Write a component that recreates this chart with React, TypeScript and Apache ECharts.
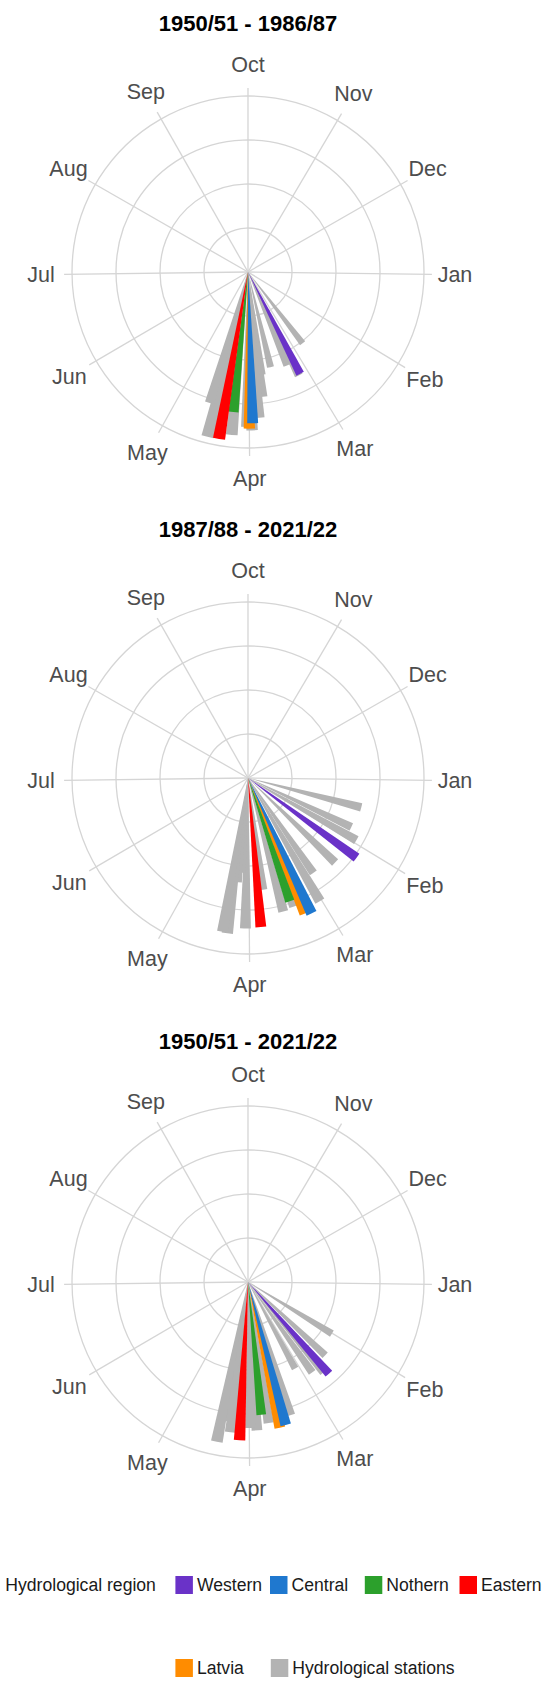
import React, { useEffect, useRef } from "react";
import * as echarts from "echarts";

// ---------- data ----------
const periodTitles = ["1950/51 - 1986/87", "1987/88 - 2021/22", "1950/51 - 2021/22"];
const monthLabels = ["Oct", "Nov", "Dec", "Jan", "Feb", "Mar", "Apr", "May", "Jun", "Jul", "Aug", "Sep"];
// day of the hydrological year (1 Oct = 0) on which each month starts
const monthStartDays = [0, 31, 61, 92, 123, 151, 182, 212, 243, 273, 304, 335];
const yearDays = 365;

// mean date (day of hydrological year) and resultant length, one value per period
const westernDay = [155, 128, 140.5];
const westernLength = [0.65, 0.765, 0.695];
const centralDay = [180.7, 157, 167.5];
const centralLength = [0.86, 0.85, 0.84];
const northernDay = [188.5, 163.5, 176.7];
const northernLength = [0.8, 0.74, 0.758];
const easternDay = [192.5, 177.5, 185.6];
const easternLength = [0.962, 0.85, 0.9];
const latviaDay = [182, 159.5, 170];
const latviaLength = [0.89, 0.835, 0.848];

// hydrological stations
const stationDays1 = [144.5, 156, 159.5, 169, 174.7, 175.6, 178, 181, 183, 188.3, 194.5, 196.5, 199];
const stationLengths1 = [0.51, 0.655, 0.575, 0.555, 0.59, 0.715, 0.83, 0.9, 0.88, 0.93, 0.95, 0.965, 0.775];
const stationDays2 = [106, 117, 121.5, 136, 147.5, 151.8, 162.5, 167.5, 174.6, 183.5, 186, 188, 190.2, 192];
const stationLengths2 = [0.665, 0.65, 0.71, 0.69, 0.655, 0.81, 0.775, 0.785, 0.64, 0.855, 0.54, 0.595, 0.89, 0.885];
const stationDays3 = [123.3, 135.4, 142, 146.6, 153.5, 164.7, 174, 179, 181.5, 189.3, 191, 193.7];
const stationLengths3 = [0.56, 0.605, 0.67, 0.63, 0.56, 0.795, 0.81, 0.845, 0.83, 0.86, 0.8, 0.925];

const stationDays = [stationDays1, stationDays2, stationDays3];
const stationLengths = [stationLengths1, stationLengths2, stationLengths3];

// ---------- styling / layout ----------
const FONT = "'Liberation Sans', Arial, Helvetica, sans-serif";
const GRID_COLOR = "#d5d5d5";
const LABEL_COLOR = "#4d4d4d";
const CENTERS: [number, number][] = [
  [248, 272],
  [248, 778],
  [248, 1282],
];
const TITLE_Y = [23, 529, 1041];
const RING_RADIUS_PX = 176;
const SPOKE_END = 1.045;
const LABEL_RADIUS = 1.176;
const BAR_DAYS = 4.2;

const groups = [
  { name: "Hydrological stations", color: "#b3b3b3" },
  { name: "Latvia", color: "#ff8c00" },
  { name: "Western", color: "#6a32c8" },
  { name: "Central", color: "#1f78cf" },
  { name: "Nothern", color: "#2ca02c" },
  { name: "Eastern", color: "#ff0000" },
];

function groupData(name: string, p: number): number[][] {
  switch (name) {
    case "Hydrological stations":
      return stationDays[p].map((d, k) => [stationLengths[p][k], d]);
    case "Latvia":
      return [[latviaLength[p], latviaDay[p]]];
    case "Western":
      return [[westernLength[p], westernDay[p]]];
    case "Central":
      return [[centralLength[p], centralDay[p]]];
    case "Nothern":
      return [[northernLength[p], northernDay[p]]];
    default:
      return [[easternLength[p], easternDay[p]]];
  }
}

const renderBar = (params: any, api: any) => {
  const r = api.value(0);
  const day = api.value(1);
  const c = api.coord([0, day]);
  const pA = api.coord([r, day - BAR_DAYS / 2]);
  const pB = api.coord([r, day + BAR_DAYS / 2]);
  const rad = Math.hypot(pA[0] - c[0], pA[1] - c[1]);
  const a1 = Math.atan2(pA[1] - c[1], pA[0] - c[0]);
  let a2 = Math.atan2(pB[1] - c[1], pB[0] - c[0]);
  if (a2 < a1) a2 += Math.PI * 2;
  return {
    type: "sector",
    shape: { cx: c[0], cy: c[1], r0: 0, r: rad, startAngle: a1, endAngle: a2, clockwise: true },
    style: { fill: api.visual("color") },
  };
};

const renderSpoke = (params: any, api: any) => {
  const day = api.value(1);
  const c = api.coord([0, day]);
  const e = api.coord([SPOKE_END, day]);
  const l = api.coord([LABEL_RADIUS, day]);
  return {
    type: "group",
    children: [
      {
        type: "line",
        shape: { x1: c[0], y1: c[1], x2: e[0], y2: e[1] },
        style: { stroke: GRID_COLOR, lineWidth: 1.3 },
      },
      {
        type: "text",
        x: l[0],
        y: l[1],
        style: {
          text: monthLabels[params.dataIndex],
          fill: LABEL_COLOR,
          font: `21.5px ${FONT}`,
          align: "center",
          verticalAlign: "middle",
          textAlign: "center",
          textVerticalAlign: "middle",
        },
      },
    ],
  };
};

const legendItems: [string, number, number][] = [
  ["Western", 175.4, 1576],
  ["Central", 270, 1576],
  ["Nothern", 364.8, 1576],
  ["Eastern", 459.5, 1576],
  ["Latvia", 175.4, 1659],
  ["Hydrological stations", 270.8, 1659],
];

function buildOption() {
  const series: any[] = [];
  CENTERS.forEach((_, p) => {
    series.push({
      type: "custom",
      name: "grid" + p,
      coordinateSystem: "polar",
      polarIndex: p,
      silent: true,
      data: monthStartDays.map((d) => [1, d]),
      renderItem: renderSpoke,
      z: 1,
    });
    groups.forEach((g) => {
      series.push({
        type: "custom",
        name: g.name,
        coordinateSystem: "polar",
        polarIndex: p,
        itemStyle: { color: g.color },
        data: groupData(g.name, p),
        renderItem: renderBar,
        z: 2,
      });
    });
  });

  return {
    animation: false,
    backgroundColor: "#ffffff",
    polar: CENTERS.map((c) => ({ center: c, radius: RING_RADIUS_PX })),
    angleAxis: CENTERS.map((_, p) => ({
      polarIndex: p,
      type: "value",
      min: 0,
      max: yearDays,
      startAngle: 90,
      clockwise: true,
      axisLine: { show: false },
      axisTick: { show: false },
      axisLabel: { show: false },
      splitLine: { show: false },
    })),
    radiusAxis: CENTERS.map((_, p) => ({
      polarIndex: p,
      type: "value",
      min: 0,
      max: 1,
      interval: 0.25,
      axisLine: { show: false },
      axisTick: { show: false },
      axisLabel: { show: false },
      splitLine: { show: true, lineStyle: { color: GRID_COLOR, width: 1.3 } },
    })),
    legend: legendItems.map(([name, left, top]) => ({
      data: [name],
      left,
      top,
      padding: 0,
      itemGap: 0,
      itemWidth: 17.5,
      itemHeight: 18,
      icon: "rect",
      textStyle: { fontSize: 17.6, color: "#1a1a1a", fontFamily: FONT, padding: [0, 0, 0, -1] },
    })),
    graphic: [
      ...periodTitles.map((t, p) => ({
        type: "text",
        x: CENTERS[p][0],
        y: TITLE_Y[p],
        style: {
          text: t,
          fill: "#000000",
          font: `bold 22px ${FONT}`,
          align: "center",
          verticalAlign: "middle",
          textAlign: "center",
          textVerticalAlign: "middle",
        },
      })),
      {
        type: "text",
        x: 5.3,
        y: 1585,
        style: {
          text: "Hydrological region",
          fill: "#1a1a1a",
          font: `17.6px ${FONT}`,
          align: "left",
          verticalAlign: "middle",
          textAlign: "left",
          textVerticalAlign: "middle",
        },
      },
    ],
    series,
  };
}

export default function App() {
  const ref = useRef<HTMLDivElement>(null);
  useEffect(() => {
    if (!ref.current) return;
    const chart = echarts.init(ref.current, null, { renderer: "svg" });
    chart.setOption(buildOption() as any);
    return () => chart.dispose();
  }, []);
  return (
    <div
      ref={ref}
      style={{ position: "absolute", left: 0, top: 0, width: 550, height: 1688, background: "#ffffff" }}
    />
  );
}
